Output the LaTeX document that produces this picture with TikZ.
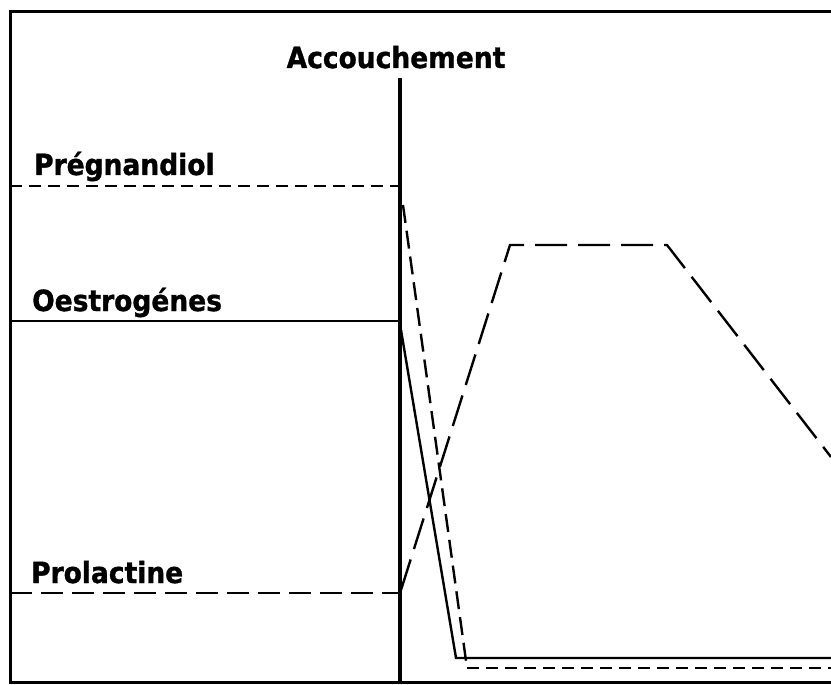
\documentclass[tikz,border=0pt]{standalone}
\usepackage{fontspec}
\setmainfont[BoldFeatures={FakeBold=1.2}]{DejaVu Sans}
\begin{document}
\begin{tikzpicture}[x=1pt,y=-1pt,
  lbl/.style={font=\fontsize{26.5}{32}\selectfont\bfseries, inner sep=0pt, yscale=1.1},
  frame/.style={line width=3pt},
  axis/.style={line width=4pt},
  curve/.style={line width=2.4pt},
  pregdash/.style={curve, dash pattern=on 12pt off 7pt},
  pregdrop/.style={curve, dash pattern=on 18pt off 8pt},
  prolhdash/.style={curve, dash pattern=on 22pt off 9pt},
  proldash/.style={curve, dash pattern=on 32pt off 11pt}]
\useasboundingbox (0,0) rectangle (831,685);
% frame
\coordinate (ftr) at (831,12);
\coordinate (ftl) at (10,12);
\coordinate (fbl) at (10,682);
\coordinate (fbr) at (831,682);
\draw[frame] (ftr) -- (ftl) -- (fbl) -- (fbr);
% axis
\coordinate (atop) at (400,78);
\coordinate (abot) at (400,682);
\draw[axis] (atop) -- (abot);
% labels
\node[lbl, anchor=base] (acc) at (396,68) {Accouchement};
\node[lbl, anchor=base west] (preg) at (34,175) {Prégnandiol};
\node[lbl, anchor=base west] (oest) at (32,311) {Oestrogénes};
\node[lbl, anchor=base west] (prol) at (31,583) {Prolactine};
% Pregnandiol
\coordinate (p0) at (10,186);
\coordinate (p1) at (400,186);
\coordinate (p2) at (403,205);
\coordinate (p3) at (467,668);
\coordinate (p4) at (831,668);
\draw[pregdash] (p0) -- (p1);
\draw[pregdrop] (p2) -- (p3);
\draw[pregdash] (p3) -- (p4);
% Oestrogenes
\coordinate (o0) at (10,321);
\coordinate (o1) at (400,321);
\coordinate (o2) at (401,330);
\coordinate (o3) at (456,658);
\coordinate (o4) at (831,658);
\draw[curve] (o0) -- (o1);
\draw[curve] (o2) -- (o3) -- (o4);
% Prolactine
\coordinate (r0) at (10,593);
\coordinate (r1) at (400,593);
\coordinate (r2) at (401,590);
\coordinate (r3) at (510,245);
\coordinate (r4) at (667,245);
\coordinate (r5) at (831,457);
\draw[prolhdash] (r0) -- (r1);
\draw[proldash] (r2) -- (r3) -- (r4) -- (r5);
\end{tikzpicture}
\end{document}
